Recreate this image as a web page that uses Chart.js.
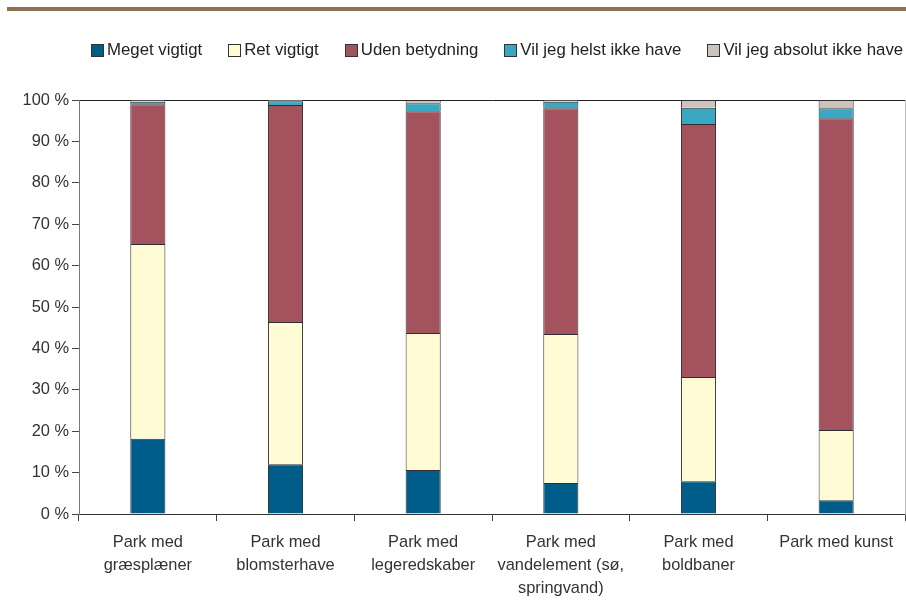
<!DOCTYPE html>
<html lang="da">
<head>
<meta charset="UTF-8">
<title>Park ønsker</title>
<script src="https://cdn.jsdelivr.net/npm/chart.js@4.4.0/dist/chart.umd.min.js"></script>
<style>
  body { margin: 0; background: #fff; }
  #wrap { position: relative; width: 906px; height: 607px; }
  #topline { position: absolute; left: 7px; top: 7px; width: 899px; height: 4px; background: #8c7158; }
  #legend { position: absolute; left: 91px; top: 40px; display: flex; gap: 26px;
            font-family: "Liberation Sans", Arial, sans-serif; font-size: 16.8px; color: #222; }
  #legend span.item { display: flex; align-items: center; white-space: nowrap; }
  #legend span.box { width: 11px; height: 11px; border: 1px solid #333; margin-right: 3px; }
</style>
</head>
<body>
<div id="wrap">
  <div id="topline"></div>
  <div id="legend"></div>
  <canvas id="chart" width="906" height="607"></canvas>
</div>
<script>
  const categories = [
    ['Park med', 'græsplæner'],
    ['Park med', 'blomsterhave'],
    ['Park med', 'legeredskaber'],
    ['Park med', 'vandelement (sø,', 'springvand)'],
    ['Park med', 'boldbaner'],
    ['Park med kunst']
  ];
  const seriesNames = ['Meget vigtigt', 'Ret vigtigt', 'Uden betydning', 'Vil jeg helst ikke have', 'Vil jeg absolut ikke have'];
  const megetVigtigt = [18.2, 12.0, 10.6, 7.5, 7.9, 3.3];
  const retVigtigt = [47.0, 34.4, 33.1, 36.0, 25.2, 17.0];
  const udenBetydning = [33.8, 52.4, 53.6, 54.5, 61.1, 75.3];
  const helstIkke = [0.6, 0.9, 1.9, 1.6, 3.9, 2.4];
  const absolutIkke = [0.4, 0.3, 0.8, 0.4, 1.9, 2.0];
  const yTicks = [0, 10, 20, 30, 40, 50, 60, 70, 80, 90, 100];

  const colors = ['#005d89', '#fffcd5', '#a4525e', '#3aa7c3', '#ccc3bd'];
  const values = [megetVigtigt, retVigtigt, udenBetydning, helstIkke, absolutIkke];

  const datasets = seriesNames.map((name, i) => ({
    label: name,
    data: values[i],
    backgroundColor: colors[i],
    borderColor: '#2e2e2e',
    borderWidth: 1,
    barPercentage: 0.255,
    categoryPercentage: 1
  }));

  // legend in html so the spacing matches
  const legend = document.getElementById('legend');
  seriesNames.forEach((name, i) => {
    const item = document.createElement('span');
    item.className = 'item';
    item.innerHTML = '<span class="box" style="background:' + colors[i] + '"></span>' + name;
    legend.appendChild(item);
  });

  const tickFont = { family: '"Liberation Sans", Arial, sans-serif', size: 16.4, lineHeight: 1.4 };

  new Chart(document.getElementById('chart'), {
    type: 'bar',
    data: { labels: categories, datasets: datasets },
    options: {
      responsive: false,
      animation: false,
      layout: { padding: { top: 100, right: 1, left: 0, bottom: 0 } },
      plugins: { legend: { display: false }, tooltip: { enabled: false } },
      scales: {
        x: {
          stacked: true,
          grid: { drawOnChartArea: false, offset: true, tickLength: 7, color: '#444' },
          border: { color: '#333', width: 1 },
          ticks: { font: tickFont, color: '#333', padding: 10, maxRotation: 0, autoSkip: false },
          afterFit: s => { s.height = 93; }
        },
        y: {
          stacked: true,
          min: 0,
          max: 100,
          afterBuildTicks: s => { s.ticks = yTicks.map(v => ({ value: v })); },
          grid: {
            color: c => (c.tick && c.tick.value === 100) ? '#222' : 'rgba(0,0,0,0)',
            tickColor: '#444',
            tickLength: 7
          },
          border: { color: '#777', width: 1 },
          ticks: { font: tickFont, color: '#333', padding: 3, callback: v => v + ' %' },
          afterFit: s => { s.width = 79; }
        },
        y2: {
          position: 'right',
          min: 0,
          max: 100,
          grid: { drawOnChartArea: false, drawTicks: false },
          border: { color: '#bbb', width: 1 },
          ticks: { display: false },
          afterFit: s => { s.width = 0; }
        }
      }
    }
  });
</script>
</body>
</html>
